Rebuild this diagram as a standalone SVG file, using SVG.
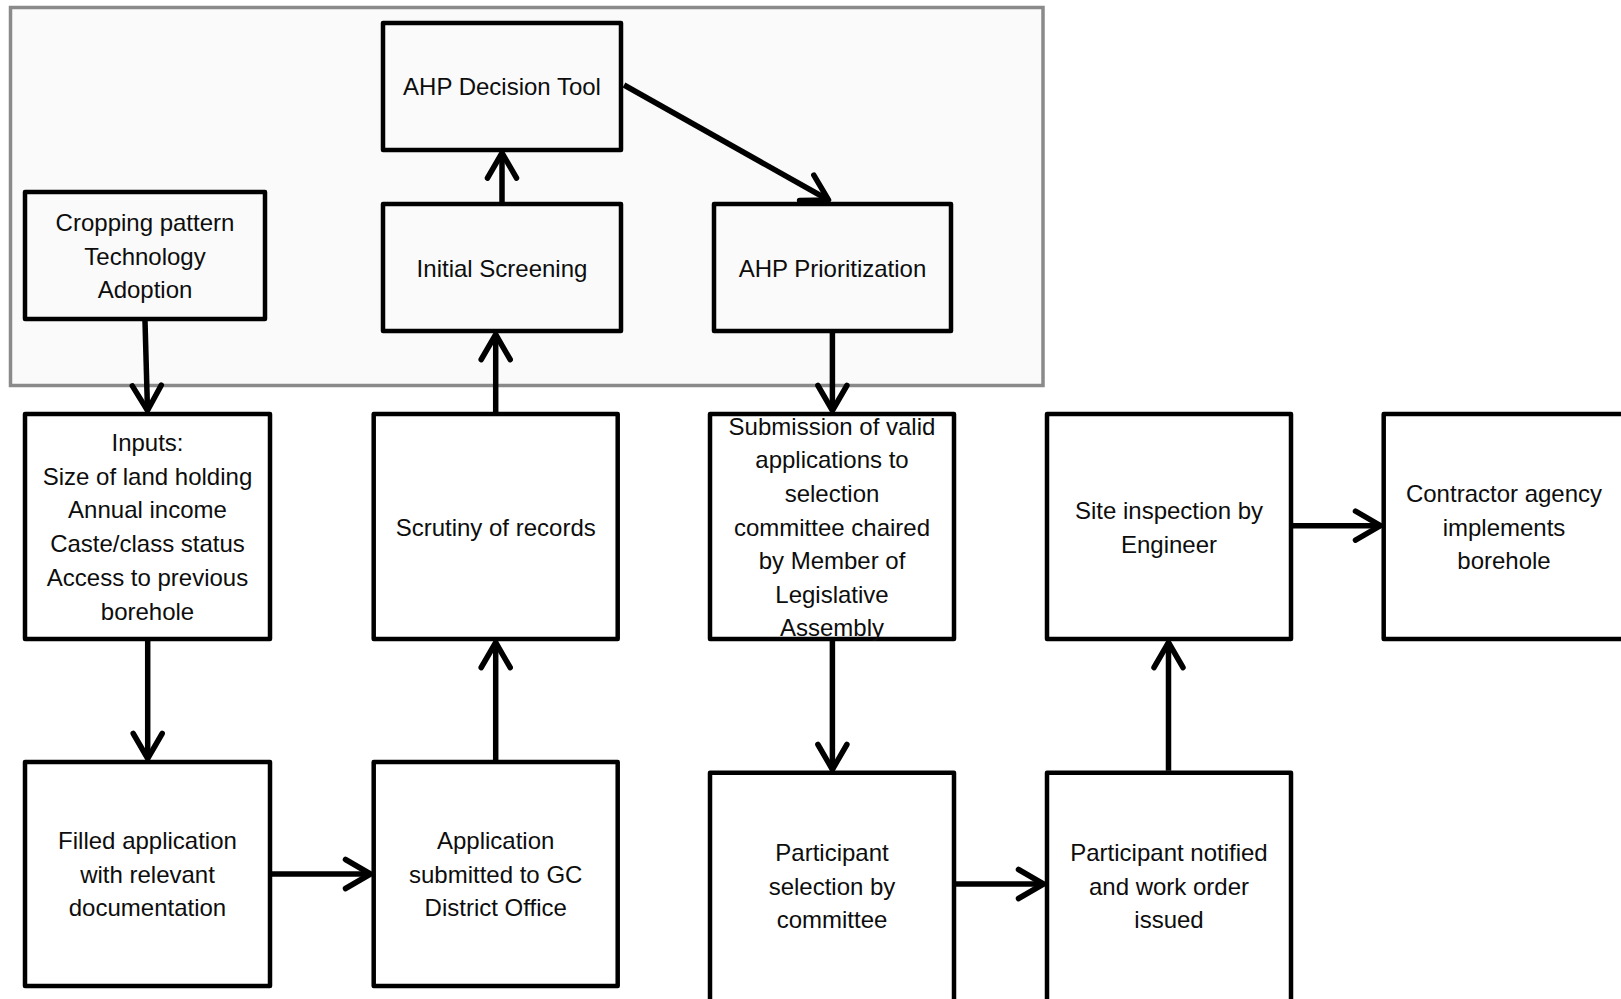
<svg xmlns="http://www.w3.org/2000/svg" width="1621" height="999" viewBox="0 0 1621 999">
  <style>
    .box { fill: #ffffff; stroke: #000000; stroke-width: 4.5; stroke-linejoin: round; }
    .inner { fill: #fafafa; }
    .panel { fill: #fafafa; stroke: #8a8a8a; stroke-width: 3.5; }
    .lbl { font-family: "Liberation Sans", Arial, sans-serif; font-size: 24px; fill: #0d0d0d; text-anchor: middle; }
    .conn { fill: none; stroke: #000000; stroke-width: 5.5; marker-end: url(#chev); }
  </style>
  <defs>
    <!-- open chevron arrowhead, sized in user units -->
    <marker id="chev" markerUnits="userSpaceOnUse" markerWidth="40" markerHeight="40" refX="0" refY="0" orient="auto" overflow="visible" viewBox="-30 -20 40 40">
      <path d="M -25 -14.5 L 0 0 L -25 14.5" fill="none" stroke="#000000" stroke-width="5.5" stroke-linecap="round" stroke-linejoin="round"/>
    </marker>
  </defs>

  <rect width="1621" height="999" fill="#ffffff"/>

  <!-- shaded decision-support panel -->
  <rect class="panel" x="10.5" y="7.5" width="1032.5" height="378"/>

  <g id="node-cropping">
    <rect class="box inner" x="25" y="192" width="240" height="127"/>
    <text class="lbl" x="145" y="231">Cropping pattern</text>
    <text class="lbl" x="145" y="264.5">Technology</text>
    <text class="lbl" x="145" y="298">Adoption</text>
  </g>

  <g id="node-ahp-tool">
    <rect class="box inner" x="383" y="23" width="238" height="127"/>
    <text class="lbl" x="502" y="95">AHP Decision Tool</text>
  </g>

  <g id="node-initial-screening">
    <rect class="box inner" x="383" y="204" width="238" height="127"/>
    <text class="lbl" x="502" y="277">Initial Screening</text>
  </g>

  <g id="node-ahp-prioritization">
    <rect class="box inner" x="714" y="204" width="237" height="127"/>
    <text class="lbl" x="832.5" y="277">AHP Prioritization</text>
  </g>

  <g id="node-inputs">
    <rect class="box" x="25" y="414" width="245" height="225"/>
    <text class="lbl" x="147.5" y="451">Inputs:</text>
    <text class="lbl" x="147.5" y="484.5">Size of land holding</text>
    <text class="lbl" x="147.5" y="518">Annual income</text>
    <text class="lbl" x="147.5" y="552">Caste/class status</text>
    <text class="lbl" x="147.5" y="586">Access to previous</text>
    <text class="lbl" x="147.5" y="619.5">borehole</text>
  </g>

  <g id="node-scrutiny">
    <rect class="box" x="373.7" y="414" width="244" height="225"/>
    <text class="lbl" x="495.7" y="536">Scrutiny of records</text>
  </g>

  <g id="node-submission">
    <rect class="box" x="710" y="414" width="244" height="225"/>
    <text class="lbl" x="832" y="434.5">Submission of valid</text>
    <text class="lbl" x="832" y="468">applications to</text>
    <text class="lbl" x="832" y="501.5">selection</text>
    <text class="lbl" x="832" y="535.5">committee chaired</text>
    <text class="lbl" x="832" y="569">by Member of</text>
    <text class="lbl" x="832" y="603">Legislative</text>
    <text class="lbl" x="832" y="636">Assembly</text>
  </g>

  <g id="node-site-inspection">
    <rect class="box" x="1047" y="414" width="244" height="225"/>
    <text class="lbl" x="1169" y="518.5">Site inspection by</text>
    <text class="lbl" x="1169" y="552.5">Engineer</text>
  </g>

  <g id="node-contractor">
    <rect class="box" x="1383.7" y="414" width="246" height="225"/>
    <text class="lbl" x="1504" y="501.5">Contractor agency</text>
    <text class="lbl" x="1504" y="535.5">implements</text>
    <text class="lbl" x="1504" y="569">borehole</text>
  </g>

  <g id="node-filled-application">
    <rect class="box" x="25" y="762" width="245" height="224"/>
    <text class="lbl" x="147.5" y="849">Filled application</text>
    <text class="lbl" x="147.5" y="883">with relevant</text>
    <text class="lbl" x="147.5" y="916">documentation</text>
  </g>

  <g id="node-application-submitted">
    <rect class="box" x="373.7" y="762" width="244" height="224"/>
    <text class="lbl" x="495.7" y="849">Application</text>
    <text class="lbl" x="495.7" y="883">submitted to GC</text>
    <text class="lbl" x="495.7" y="916">District Office</text>
  </g>

  <g id="node-participant-selection">
    <rect class="box" x="710" y="772.7" width="244" height="240"/>
    <text class="lbl" x="832" y="860.5">Participant</text>
    <text class="lbl" x="832" y="894.5">selection by</text>
    <text class="lbl" x="832" y="927.5">committee</text>
  </g>

  <g id="node-participant-notified">
    <rect class="box" x="1047" y="772.7" width="244" height="240"/>
    <text class="lbl" x="1169" y="860.5">Participant notified</text>
    <text class="lbl" x="1169" y="894.5">and work order</text>
    <text class="lbl" x="1169" y="927.5">issued</text>
  </g>

  <g id="connectors">
    <line class="conn" x1="145" y1="321" x2="147.5" y2="410.5"/>
    <line class="conn" x1="147.7" y1="641" x2="147.7" y2="758.5"/>
    <line class="conn" x1="272" y1="874" x2="370.5" y2="874"/>
    <line class="conn" x1="495.7" y1="760" x2="495.7" y2="642.5"/>
    <line class="conn" x1="495.7" y1="412" x2="495.7" y2="334.5"/>
    <line class="conn" x1="502" y1="202" x2="502" y2="153"/>
    <line class="conn" x1="624" y1="85" x2="828.5" y2="200"/>
    <line class="conn" x1="832.4" y1="333" x2="832.4" y2="410.5"/>
    <line class="conn" x1="832.4" y1="641" x2="832.4" y2="769.5"/>
    <line class="conn" x1="956" y1="884" x2="1043.5" y2="884"/>
    <line class="conn" x1="1168.5" y1="770.7" x2="1168.5" y2="642.5"/>
    <line class="conn" x1="1293" y1="525.7" x2="1380.5" y2="525.7"/>
  </g>
</svg>
